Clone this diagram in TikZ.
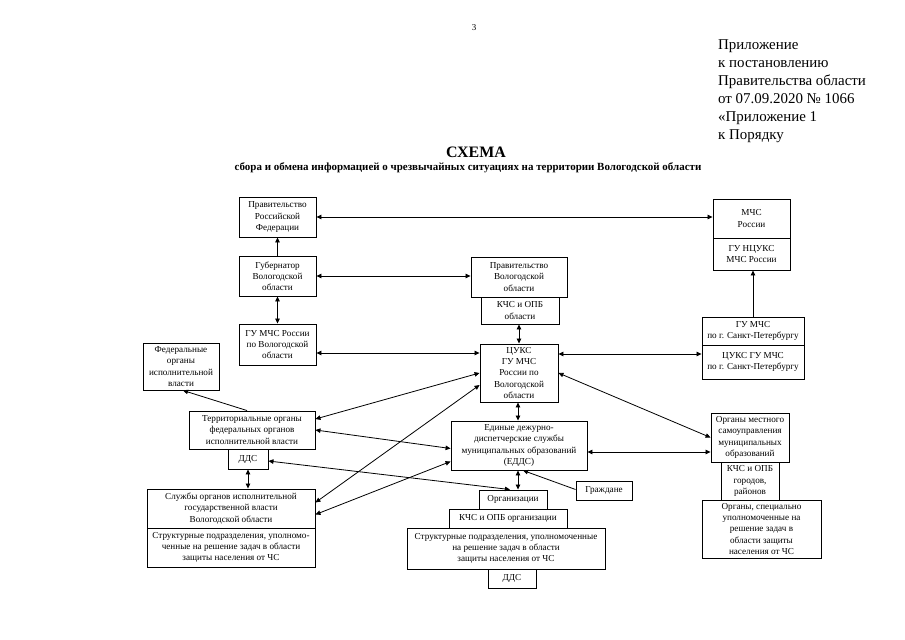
\documentclass[tikz,border=0pt]{standalone}
\usepackage{fontspec}
\setmainfont{Liberation Serif}
\usetikzlibrary{arrows.meta,calc}
\begin{document}
\begin{tikzpicture}[x=1bp,y=-1bp,
  box/.style={draw, line width=0.9bp, align=center, inner sep=0pt, font=\fontsize{9.2}{11.2}\selectfont},
  conn/.style={line width=0.8bp, {Triangle[length=5bp,width=4.5bp]}-{Triangle[length=5bp,width=4.5bp]}},
  one/.style={line width=0.8bp, -{Triangle[length=5bp,width=4.5bp]}}]
\useasboundingbox[fill=white] (0,0) rectangle (905,640);

% header texts
\node[font=\fontsize{9}{10}\selectfont] (pg) at (474,28) {3};
\node[anchor=north west, align=left, inner sep=0pt, font=\fontsize{15}{18}\selectfont] (pril) at (718,40)
  {Приложение\\к постановлению\\Правительства области\\от 07.09.2020 № 1066\\«Приложение 1\\к Порядку};
\node[font=\bfseries\fontsize{16}{17}\selectfont] (schema) at (476,152) {СХЕМА};
\node[font=\bfseries\fontsize{11}{12}\selectfont] (sub) at (468,168)
  {сбора и обмена информацией о чрезвычайных ситуациях на территории Вологодской области};

% boxes
\node[box, minimum width=77bp, minimum height=40bp] (prf) at (277.5,217) {Правительство\\Российской\\Федерации};
\node[box, minimum width=77bp, minimum height=40bp] (gub) at (277.5,276) {Губернатор\\Вологодской\\области};
\node[box, minimum width=77bp, minimum height=41bp] (gumchsvo) at (277.5,344.5) {ГУ МЧС России\\по Вологодской\\области};
\node[box, minimum width=77bp, minimum height=39bp] (mchs) at (751.5,218.5) {МЧС\\России};
\node[box, minimum width=77bp, minimum height=32bp] (ncuks) at (751.5,254) {ГУ НЦУКС\\МЧС России};
\node[box, minimum width=96bp, minimum height=40bp] (pvo) at (519,277) {Правительство\\Вологодской\\области};
\node[box, minimum width=78bp, minimum height=27bp] (kchsobl) at (520,310.5) {КЧС и ОПБ\\области};
\node[box, minimum width=78bp, minimum height=58bp] (cuks) at (519,373) {ЦУКС\\ГУ МЧС\\России по\\Вологодской\\области};
\node[box, minimum width=102bp, minimum height=28bp] (gumchsspb) at (753,331) {ГУ МЧС\\по г. Санкт-Петербургу};
\node[box, minimum width=102bp, minimum height=34bp] (cuksspb) at (753,362) {ЦУКС ГУ МЧС\\по г. Санкт-Петербургу};
\node[box, minimum width=76bp, minimum height=47bp] (foiv) at (181,366.5) {Федеральные\\органы\\исполнительной\\власти};
\node[box, minimum width=126bp, minimum height=38bp] (terr) at (252,430) {Территориальные органы\\федеральных органов\\исполнительной власти};
\node[box, minimum width=40bp, minimum height=20bp] (dds1) at (248,459) {ДДС};
\node[box, minimum width=168bp, minimum height=39bp] (sluzh) at (231,508.5) {Службы органов исполнительной\\государственной власти\\Вологодской области};
\node[box, minimum width=168bp, minimum height=39bp] (strukt1) at (231,547.5) {Структурные подразделения, уполномо-\\ченные на решение задач в области\\защиты населения от ЧС};
\node[box, minimum width=136bp, minimum height=49bp] (edds) at (519,445.5) {Единые дежурно-\\диспетчерские службы\\муниципальных образований\\(ЕДДС)};
\node[box, minimum width=68bp, minimum height=19bp] (org) at (513,499.5) {Организации};
\node[box, minimum width=118bp, minimum height=19bp] (kchsorg) at (508,518.5) {КЧС и ОПБ организации};
\node[box, minimum width=198bp, minimum height=41bp] (strukt2) at (506,548.5) {Структурные подразделения, уполномоченные\\на решение задач в области\\защиты населения от ЧС};
\node[box, minimum width=48bp, minimum height=19bp] (dds2) at (512,578.5) {ДДС};
\node[box, minimum width=56bp, minimum height=19bp] (grazh) at (604,490.5) {Граждане};
\node[box, minimum width=78bp, minimum height=49bp] (omsu) at (750,437.5) {Органы местного\\самоуправления\\муниципальных\\образований};
\node[box, minimum width=58bp, minimum height=38bp] (kchsgor) at (750,481) {КЧС и ОПБ\\городов,\\районов};
\node[box, minimum width=119bp, minimum height=58bp] (organy) at (761.5,529) {Органы, специально\\уполномоченные на\\решение задач в\\области защиты\\населения от ЧС};

% helper coordinates
\coordinate (yA) at (0,353);
\coordinate (yB) at (0,354);
\coordinate (yC) at (0,452);
\coordinate (xA) at (518,0);

% connectors
\draw[one] (gub.north) -- (prf.south);
\draw[conn] (prf.east) -- (prf.east -| mchs.west);
\draw[conn] (gub.east) -- (gub.east -| pvo.west);
\draw[conn] (gub.south) -- (gumchsvo.north);
\draw[conn] (gumchsvo.east |- yA) -- (cuks.west |- yA);
\draw[conn] (kchsobl.south -| cuks.north) -- (cuks.north);
\draw[one] (gumchsspb.north) -- (gumchsspb.north |- ncuks.south);
\draw[conn] (cuks.east |- yB) -- (cuksspb.west |- yB);
\draw[conn] (cuks.south -| xA) -- (edds.north -| xA);
\draw[conn] (edds.south -| xA) -- (org.north -| xA);
\draw[one] ($(grazh.west)+(0,-1)$) -- ($(edds.south)+(4,0)$);
\draw[conn] (cuks.east) -- (omsu.west);
\draw[conn] (edds.east |- yC) -- (omsu.west |- yC);
\draw[one] ($(terr.north)+(-5,0)$) -- ($(foiv.south)+(2,0)$);
\draw[conn] (cuks.west) -- ($(terr.east)+(0,-11)$);
\draw[conn] (terr.east) -- ($(edds.west)+(0,3)$);
\draw[conn] ($(dds1.east)+(0,2)$) -- ($(org.north)+(-3,0)$);
\draw[conn] ($(cuks.west)+(0,12)$) -- ($(sluzh.east)+(0,-6)$);
\draw[conn] ($(edds.west)+(0,16)$) -- ($(sluzh.east)+(0,6)$);
\draw[conn] (dds1.south) -- (dds1.south |- sluzh.north);
\end{tikzpicture}
\end{document}
